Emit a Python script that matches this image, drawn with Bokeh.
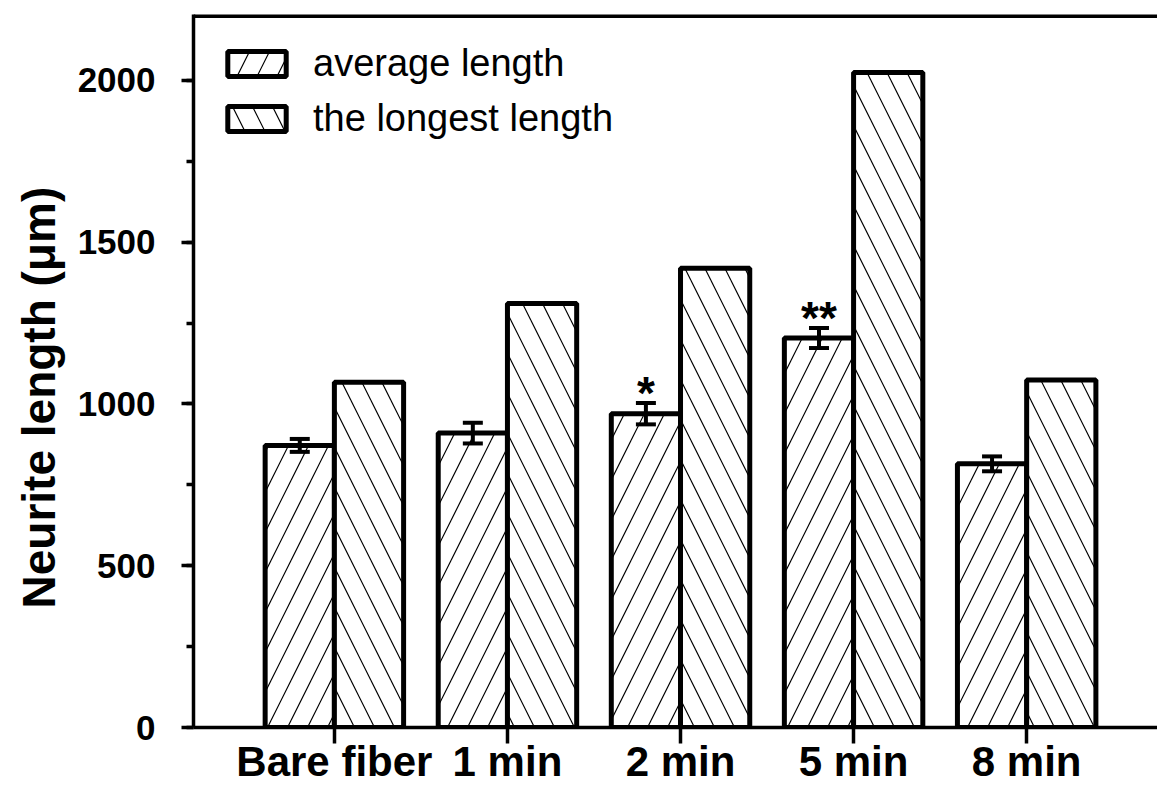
import numpy as np
from bokeh.plotting import figure
from bokeh.models import (ColumnDataSource, Whisker, TeeHead, FixedTicker,
                          SingleIntervalTicker, Range1d, Span, Legend, LegendItem, Title)
from bokeh.core.properties import value
from bokeh.embed import file_html
from bokeh.resources import INLINE

categories = ["Bare fiber", "1 min", "2 min", "5 min", "8 min"]
average_length = [872, 910, 970, 1204, 815]
average_error = [20, 32, 33, 31, 23]
longest_length = [1067, 1311, 1420, 2025, 1074]
significance = ["", "", "*", "**", ""]
y_title = "Neurite length (μm)"

FONT = "Liberation Sans"

xpos = np.arange(1, len(categories) + 1)
avg_x = xpos - 0.2
long_x = xpos + 0.2

src_avg = ColumnDataSource(dict(
    x=avg_x, top=average_length,
    upper=[v + e for v, e in zip(average_length, average_error)],
    lower=[v - e for v, e in zip(average_length, average_error)],
))
src_long = ColumnDataSource(dict(x=long_x, top=longest_length))

p = figure(width=1157, height=787, output_backend="svg", toolbar_location=None,
           x_range=Range1d(0.186, 5.756), y_range=Range1d(0, 2204),
           min_border_left=192, min_border_right=0, min_border_top=14,
           min_border_bottom=60)
p.outline_line_color = None
p.xgrid.visible = False
p.ygrid.visible = False
p.background_fill_color = "white"
p.border_fill_color = "white"

r_avg = p.vbar(x="x", top="top", width=0.4, bottom=0, source=src_avg,
               fill_color="white", line_color="black", line_width=5,
               hatch_pattern="/", hatch_color="black", hatch_scale=40,
               hatch_weight=1.2)
r_long = p.vbar(x="x", top="top", width=0.4, bottom=0, source=src_long,
                fill_color="white", line_color="black", line_width=5,
                hatch_pattern="\\", hatch_color="black", hatch_scale=40,
                hatch_weight=1.2)

w = Whisker(base="x", upper="upper", lower="lower", source=src_avg,
            line_color="black", line_width=4, level="overlay",
            upper_head=TeeHead(size=20, line_width=4, line_color="black"),
            lower_head=TeeHead(size=20, line_width=4, line_color="black"))
p.add_layout(w)

star_x = [avg_x[i] for i, s in enumerate(significance) if s]
star_y = [average_length[i] + average_error[i] for i, s in enumerate(significance) if s]
star_t = [s for s in significance if s]
p.text(x=star_x, y=star_y, text=star_t, text_align="center",
       text_baseline="alphabetic", y_offset=-10,
       text_font=value(FONT), text_font_style="bold", text_font_size="46px",
       text_color="black")

# top frame line
p.add_layout(Span(location=2204, dimension="width", line_color="black", line_width=7))

# x axis
xa = p.xaxis[0]
xa.ticker = FixedTicker(ticks=list(xpos))
xa.major_label_overrides = {int(i): c for i, c in zip(xpos, categories)}
xa.minor_tick_line_color = None
xa.major_tick_in = 0
xa.major_tick_out = 16
xa.major_tick_line_width = 3.5
xa.axis_line_width = 3.5
xa.major_label_standoff = -6
xa.major_label_text_font = FONT
xa.major_label_text_font_style = "bold"
xa.major_label_text_font_size = "42px"
xa.major_label_text_color = "black"

# y axis
ya = p.yaxis[0]
ya.ticker = SingleIntervalTicker(interval=500, num_minor_ticks=2)
ya.major_tick_in = 0
ya.major_tick_out = 12
ya.minor_tick_in = 0
ya.minor_tick_out = 7
ya.major_tick_line_width = 3.5
ya.minor_tick_line_width = 3.5
ya.axis_line_width = 3.5
ya.major_label_standoff = 26
ya.major_label_text_font = FONT
ya.major_label_text_font_style = "bold"
ya.major_label_text_font_size = "35px"
ya.major_label_text_color = "black"

p.add_layout(Title(text=y_title, align="left", offset=119, standoff=20,
                   text_font=FONT, text_font_style="bold",
                   text_font_size="46px", text_color="black"), "left")

legend = Legend(items=[LegendItem(label="average length", renderers=[r_avg]),
                       LegendItem(label="the longest length", renderers=[r_long])],
                location=(27, 587), margin=0, padding=3, spacing=12,
                glyph_width=73, glyph_height=31, label_standoff=20,
                label_text_font=FONT, label_text_font_size="38px",
                label_text_color="black",
                border_line_color=None, background_fill_alpha=0)
p.add_layout(legend)

open("out.html", "w").write(file_html(p, INLINE))
